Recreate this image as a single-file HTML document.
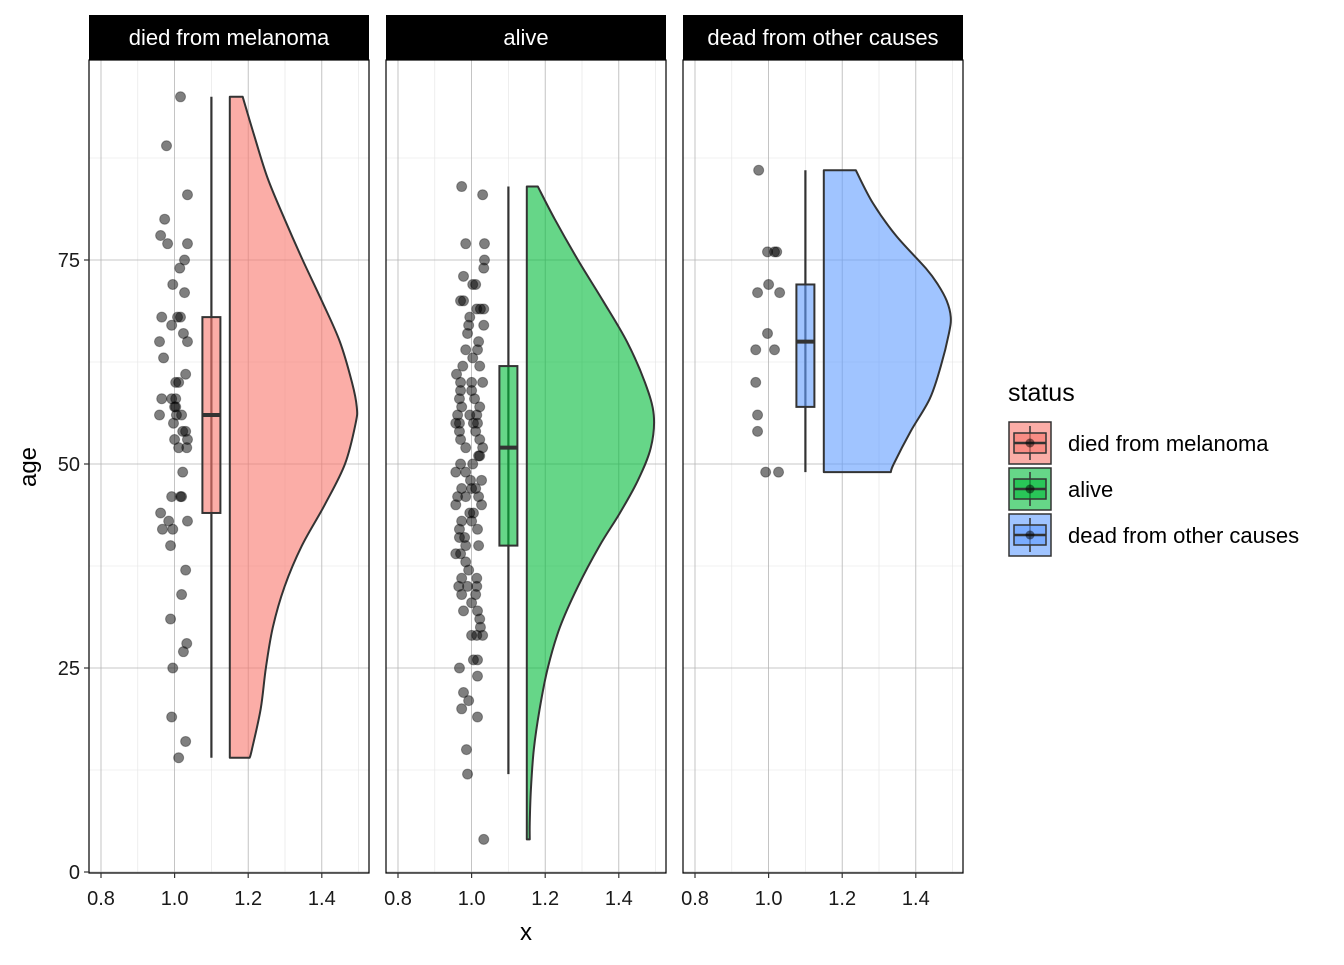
<!DOCTYPE html>
<html><head><meta charset="utf-8"><style>
body{margin:0;background:#fff;font-family:"Liberation Sans",Arial,sans-serif}
svg text{font-family:"Liberation Sans",Arial,sans-serif}
</style></head><body>
<svg id="c" width="1344" height="960" xmlns="http://www.w3.org/2000/svg"></svg>
<script>
const panelNames=["died from melanoma","alive","dead from other causes"];
const fills=["#F8766D","#00BA38","#619CFF"];
// points: [x jitter (data units), age]
const pts1=[[1.016,95],[0.978,89],[1.035,83],[0.973,80],[0.962,78],[0.981,77],[1.035,77],[1.027,75],[1.014,74],[0.995,72],[1.027,71],[0.965,68],[1.008,68],[1.016,68],[0.992,67],[1.024,66],[1.035,65],[0.959,65],[0.970,63],[1.030,61],[1.003,60],[1.011,60],[0.992,58],[0.965,58],[1.003,58],[0.959,56],[1.005,56],[1.019,56],[1.000,57],[1.003,57],[0.997,55],[1.022,54],[1.030,54],[1.000,53],[1.035,53],[1.011,52],[1.033,52],[1.022,49],[0.992,46],[1.016,46],[1.019,46],[0.962,44],[1.035,43],[0.984,43],[0.967,42],[0.995,42],[0.989,40],[1.030,37],[1.019,34],[0.989,31],[1.033,28],[1.024,27],[0.995,25],[0.992,19],[1.030,16],[1.011,14]];
const pts2=[[0.973,84],[1.030,83],[0.984,77],[1.035,77],[1.035,75],[1.033,74],[0.978,73],[1.003,72],[1.011,72],[0.970,70],[0.978,70],[1.014,69],[1.024,69],[1.033,69],[0.995,68],[1.033,67],[0.992,67],[0.989,66],[1.019,65],[0.984,64],[1.016,64],[1.003,63],[0.976,62],[1.022,62],[0.959,61],[0.970,60],[1.030,60],[1.000,60],[0.970,59],[1.000,59],[0.967,58],[1.008,58],[0.973,57],[1.022,57],[0.962,56],[0.995,56],[1.014,56],[0.957,55],[0.967,55],[1.005,55],[1.016,55],[0.967,54],[1.011,54],[0.970,53],[1.022,53],[0.984,52],[1.030,52],[1.019,51],[1.022,51],[0.970,50],[1.003,50],[0.957,49],[0.984,49],[0.997,48],[1.027,48],[0.973,47],[1.000,47],[1.011,47],[0.962,46],[0.984,46],[1.019,46],[0.957,45],[1.027,45],[0.995,44],[1.005,44],[0.973,43],[1.000,43],[0.967,42],[1.016,42],[0.967,41],[0.981,41],[0.984,40],[1.019,40],[0.957,39],[0.970,39],[0.984,38],[0.992,37],[0.973,36],[1.014,36],[0.965,35],[1.014,35],[0.989,35],[0.973,34],[1.011,34],[1.000,33],[0.978,32],[1.016,32],[1.022,31],[1.024,30],[1.000,29],[1.030,29],[1.014,29],[1.005,26],[1.016,26],[0.967,25],[1.016,24],[0.978,22],[0.992,21],[0.973,20],[1.016,19],[0.986,15],[0.989,12],[1.033,4]];
const pts3=[[0.973,86],[0.997,76],[1.022,76],[1.016,76],[1.000,72],[0.970,71],[1.030,71],[0.997,66],[0.965,64],[1.016,64],[0.965,60],[0.970,56],[0.970,54],[0.992,49],[1.027,49]];
const points=[pts1,pts2,pts3];
// boxplot stats: [lower whisker, q1, median, q3, upper whisker]
const boxes=[[14,44,56,68,95],[12,40,52,62,84],[49,57,65,72,86]];
// half-violin density: ages and widths (x units beyond 1.15)
const vAges1=[95,90,85,80,75,70,65,60,57,55,50,45,40,35,30,25,20,15,14];
const vW1=[0.035,0.068,0.103,0.149,0.198,0.250,0.299,0.332,0.345,0.342,0.313,0.258,0.196,0.149,0.117,0.098,0.084,0.060,0.054];
const vAges2=[84,80,75,70,65,60,56,52,48,44,40,35,30,25,20,15,10,6,4];
const vW2=[0.030,0.076,0.139,0.207,0.272,0.321,0.345,0.337,0.302,0.253,0.198,0.139,0.090,0.057,0.035,0.019,0.011,0.008,0.008];
const vAges3=[86,82,78,74,72,70,68,66,62,58,54,50,49];
const vW3=[0.087,0.133,0.196,0.277,0.310,0.334,0.345,0.340,0.318,0.288,0.236,0.190,0.182];
const vAges=[vAges1,vAges2,vAges3], vW=[vW1,vW2,vW3];
const yTicks=[0,25,50,75];
const xTicks=[0.8,1.0,1.2,1.4];

const NS="http://www.w3.org/2000/svg";
const svg=document.getElementById("c");
function el(tag,attrs,parent){const e=document.createElementNS(NS,tag);for(const k in attrs)e.setAttribute(k,attrs[k]);(parent||svg).appendChild(e);return e;}
const panelX=[89,386,683], PW=280, PT=60, PB=873;
const yS=a=>872-a*8.16;
const xS=(p,v)=>panelX[p]+12+(v-0.8)*368;

for(let p=0;p<3;p++){
  const g=el("g",{});
  
  
  const x0=panelX[p];
  for(let v=12.5;v<100;v+=25){const l=el("line",{x1:x0,x2:x0+PW,y1:yS(v),y2:yS(v),stroke:"#e3e3e3","stroke-width":0.6},g);}
  for(const v of [0.9,1.1,1.3,1.5]){const l=el("line",{x1:xS(p,v),x2:xS(p,v),y1:PT,y2:PB,stroke:"#e3e3e3","stroke-width":0.6},g);}
  for(const v of yTicks){const l=el("line",{x1:x0,x2:x0+PW,y1:yS(v),y2:yS(v),stroke:"#b5b5b5","stroke-width":0.8},g);}
  for(const v of xTicks){const l=el("line",{x1:xS(p,v),x2:xS(p,v),y1:PT,y2:PB,stroke:"#b5b5b5","stroke-width":0.8},g);}
  // violin (smoothed with catmull-rom)
  const A=vAges[p],W=vW[p];
  const P=A.map((a,i)=>[xS(p,1.15+W[i]),yS(a)]);
  let d="M"+xS(p,1.15)+","+P[0][1]+" L"+P[0][0]+","+P[0][1];
  for(let i=0;i<P.length-1;i++){
    const p0=P[Math.max(0,i-1)],p1=P[i],p2=P[i+1],p3=P[Math.min(P.length-1,i+2)];
    const c1=[p1[0]+(p2[0]-p0[0])/6,p1[1]+(p2[1]-p0[1])/6];
    const c2=[p2[0]-(p3[0]-p1[0])/6,p2[1]-(p3[1]-p1[1])/6];
    d+=" C"+c1[0]+","+c1[1]+" "+c2[0]+","+c2[1]+" "+p2[0]+","+p2[1];
  }
  d+=" L"+xS(p,1.15)+","+P[P.length-1][1]+"Z";
  const vp=el("path",{d:d,fill:fills[p],"fill-opacity":0.6,stroke:"#333","stroke-width":2,"stroke-linejoin":"round"},g);
  
  
  const b=boxes[p], bx=xS(p,1.1), hw=9;
  const wl=el("line",{x1:bx,x2:bx,y1:yS(b[0]),y2:yS(b[4]),stroke:"#333","stroke-width":2.2},g);
  
  const br=el("rect",{x:bx-hw,y:yS(b[3]),width:2*hw,height:yS(b[1])-yS(b[3]),fill:fills[p],"fill-opacity":0.6,stroke:"#333","stroke-width":2},g);
  
  const md=el("line",{x1:bx-hw,x2:bx+hw,y1:yS(b[2]),y2:yS(b[2]),stroke:"#333","stroke-width":4},g);
  
  for(const pt of points[p]){const c=el("circle",{cx:xS(p,pt[0]),cy:yS(pt[1]),r:5,fill:"#000","fill-opacity":0.5,stroke:"#000","stroke-opacity":0.35,"stroke-width":1},g);}
  const bd=el("rect",{x:x0,y:PT,width:PW,height:PB-PT,fill:"none",stroke:"#000","stroke-width":1.2},g);
  
  const st=el("rect",{x:x0,y:15,width:PW,height:45,fill:"#000"},g);
  
  const tt=el("text",{x:x0+PW/2,y:45,"text-anchor":"middle",fill:"#fff","font-size":22},g);tt.textContent=panelNames[p];
  
  for(const v of xTicks){
    const tk=el("line",{x1:xS(p,v),x2:xS(p,v),y1:PB,y2:PB+5,stroke:"#333","stroke-width":1.2},g);
    const t=el("text",{x:xS(p,v),y:905,"text-anchor":"middle",fill:"#1a1a1a","font-size":20},g);t.textContent=v.toFixed(1);
    
  }
}
for(const v of yTicks){
  const tk=el("line",{x1:84,x2:89,y1:yS(v),y2:yS(v),stroke:"#333","stroke-width":1.2});
  const t=el("text",{x:80,y:yS(v)+7,"text-anchor":"end",fill:"#1a1a1a","font-size":20});t.textContent=v;
  
}
const yt=el("text",{x:36,y:467,"text-anchor":"middle","font-size":24,transform:"rotate(-90 36 467)"});yt.textContent="age";

const xt=el("text",{x:526,y:940,"text-anchor":"middle","font-size":24});xt.textContent="x";

const lg=el("g",{});
const lt=el("text",{x:1008,y:401,"font-size":25},lg);lt.textContent="status";

for(let i=0;i<3;i++){
  const y0=422+i*46;
  const k=el("g",{},lg);
  el("rect",{x:1009,y:y0,width:42,height:42,fill:fills[i],"fill-opacity":0.6,stroke:"#333","stroke-width":1.5},k);
  el("line",{x1:1030,x2:1030,y1:y0+4,y2:y0+38,stroke:"#333","stroke-width":1.5},k);
  el("rect",{x:1014,y:y0+11,width:32,height:20,fill:fills[i],"fill-opacity":0.6,stroke:"#333","stroke-width":1.5},k);
  el("line",{x1:1014,x2:1046,y1:y0+21,y2:y0+21,stroke:"#333","stroke-width":2.5},k);
  el("circle",{cx:1030,cy:y0+21,r:4.5,fill:"#000","fill-opacity":0.5},k);
  const t=el("text",{x:1068,y:y0+29,"font-size":22},k);t.textContent=panelNames[i];
}
</script>
</body></html>
